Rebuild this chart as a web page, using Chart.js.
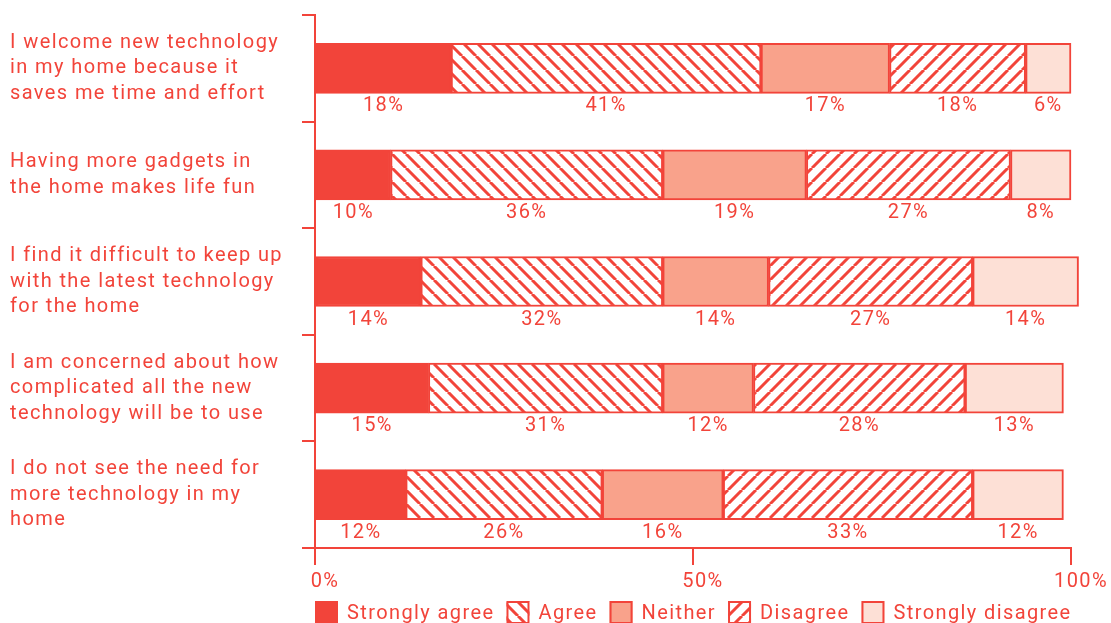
<!DOCTYPE html>
<html>
<head>
<meta charset="utf-8">
<script src="https://cdn.jsdelivr.net/npm/chart.js@4/dist/chart.umd.min.js"></script>
<style>
  html, body { margin: 0; padding: 0; background: #ffffff; }
  #wrap { width: 1111px; height: 623px; position: relative; }
</style>
</head>
<body>
<div id="wrap"><canvas id="c" width="1111" height="623"></canvas></div>
<script>
const categories = [
  ["I welcome new technology", "in my home because it", "saves me time and effort"],
  ["Having more gadgets in", "the home makes life fun"],
  ["I find it difficult to keep up", "with the latest technology", "for the home"],
  ["I am concerned about how", "complicated all the new", "technology will be to use"],
  ["I do not see the need for", "more technology in my", "home"]
];
const seriesNames = ["Strongly agree", "Agree", "Neither", "Disagree", "Strongly disagree"];
const stronglyAgree = [18, 10, 14, 15, 12];
const agree = [41, 36, 32, 31, 26];
const neither = [17, 19, 14, 12, 16];
const disagree = [18, 27, 27, 28, 33];
const stronglyDisagree = [6, 8, 14, 13, 12];
const xTicks = [0, 50, 100];

const RED = '#f2443a';
const NEITHER = '#f9a28b';
const SD = '#fde0d6';
const FONT = 'Roboto';
const SPACING = '1.4px';

function hatch(dir) {
  const s = 14;
  const c = document.createElement('canvas');
  c.width = s; c.height = s;
  const x = c.getContext('2d');
  x.fillStyle = '#ffffff';
  x.fillRect(0, 0, s, s);
  x.strokeStyle = RED;
  x.lineWidth = 3;
  x.beginPath();
  if (dir === 'back') {
    for (let k = -1; k <= 1; k++) {
      x.moveTo(k * s, 0); x.lineTo(k * s + s, s);
    }
  } else {
    for (let k = -1; k <= 1; k++) {
      x.moveTo(k * s, s); x.lineTo(k * s + s, 0);
    }
  }
  x.stroke();
  return x.createPattern(c, 'repeat');
}
const agreePat = hatch('back');
const disagreePat = hatch('fwd');

const seriesValues = [stronglyAgree, agree, neither, disagree, stronglyDisagree];
const fills = [RED, agreePat, NEITHER, disagreePat, SD];

const datasets = seriesValues.map((vals, i) => ({
  label: seriesNames[i],
  data: vals,
  backgroundColor: fills[i],
  borderColor: RED,
  borderWidth: 2,
  borderSkipped: false,
  barThickness: 50,
  clip: false
}));

const spacingPlugin = {
  id: 'spacing',
  beforeLayout(chart) { chart.ctx.letterSpacing = SPACING; },
  beforeDraw(chart) { chart.ctx.letterSpacing = SPACING; }
};

const valueLabels = {
  id: 'valueLabels',
  afterDatasetsDraw(chart) {
    const c = chart.ctx;
    c.save();
    c.letterSpacing = SPACING;
    c.fillStyle = RED;
    c.font = '20px ' + FONT;
    c.textAlign = 'center';
    c.textBaseline = 'middle';
    chart.data.datasets.forEach((ds, di) => {
      const meta = chart.getDatasetMeta(di);
      meta.data.forEach((bar, j) => {
        const p = bar.getProps(['x', 'y', 'base', 'height'], true);
        const cx = (p.x + p.base) / 2;
        c.fillText(ds.data[j] + '%', cx, p.y + p.height / 2 + 13);
      });
    });
    c.restore();
  }
};

const legendPlugin = {
  id: 'customLegend',
  afterDraw(chart) {
    const c = chart.ctx;
    const area = chart.chartArea;
    c.save();
    c.letterSpacing = SPACING;
    c.font = '20px ' + FONT;
    c.textBaseline = 'middle';
    let x = area.left;
    const yTop = 601;
    const box = 23;
    chart.data.datasets.forEach((ds) => {
      c.fillStyle = ds.backgroundColor;
      c.fillRect(x, yTop, box, box);
      c.strokeStyle = RED;
      c.lineWidth = 2;
      c.strokeRect(x + 1, yTop + 1, box - 2, box - 2);
      x += box + 9;
      c.fillStyle = RED;
      c.fillText(ds.label, x, yTop + 13);
      x += c.measureText(ds.label).width + 12;
    });
    c.restore();
  }
};

new Chart(document.getElementById('c'), {
  type: 'bar',
  data: { labels: categories, datasets },
  plugins: [spacingPlugin, valueLabels, legendPlugin],
  options: {
    indexAxis: 'y',
    responsive: false,
    animation: false,
    devicePixelRatio: 1,
    layout: { padding: { top: 15, right: 40, bottom: 0, left: 10 } },
    plugins: { legend: { display: false }, tooltip: { enabled: false } },
    scales: {
      x: {
        stacked: true,
        min: 0, max: 100,
        afterBuildTicks(axis) { axis.ticks = xTicks.map(v => ({ value: v })); },
        afterFit(axis) { axis.height = 75; axis.paddingLeft = 0; axis.paddingRight = 0; },
        border: { color: RED, width: 2 },
        grid: { drawOnChartArea: false, color: RED, lineWidth: 2, tickLength: 17 },
        ticks: {
          color: RED,
          font: { family: FONT, size: 20 },
          padding: 5,
          labelOffset: 10,
          maxRotation: 0,
          callback: v => v + '%'
        }
      },
      y: {
        stacked: true,
        afterFit(axis) { axis.width = 305; axis.paddingTop = 0; axis.paddingBottom = 0; },
        border: { color: RED, width: 2 },
        grid: { drawOnChartArea: false, color: RED, lineWidth: 2, tickLength: 13, offset: true },
        ticks: {
          color: RED,
          font: { family: FONT, size: 20, lineHeight: 1.27 },
          crossAlign: 'far',
          padding: 0
        }
      }
    }
  }
});
</script>
</body>
</html>
